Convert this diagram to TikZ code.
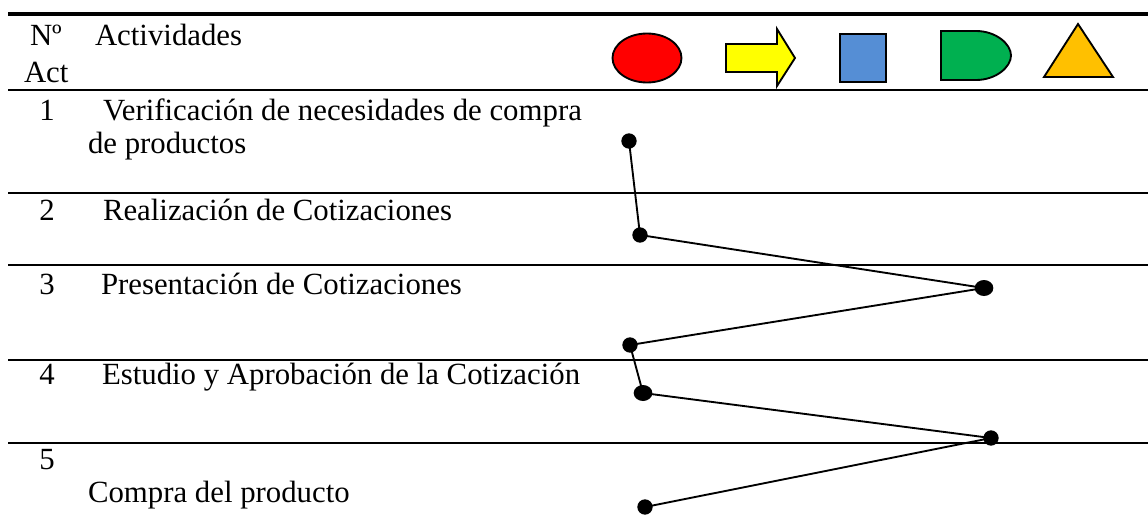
\documentclass[tikz,border=0pt]{standalone}
\usepackage{fontspec}
\usetikzlibrary{shapes.geometric}
\setmainfont{Liberation Serif}
\definecolor{cblue}{HTML}{558ED5}
\definecolor{cgreen}{HTML}{00B050}
\definecolor{corange}{HTML}{FFC000}
\definecolor{cred}{HTML}{FF0000}
\definecolor{cyellow}{HTML}{FFFF00}
\tikzset{
 txt/.style={anchor=base west,inner sep=0pt,outer sep=0pt,font=\fontsize{23.1pt}{27pt}\selectfont},
 num/.style={anchor=base,inner sep=0pt,outer sep=0pt,font=\fontsize{23.1pt}{27pt}\selectfont},
 rowline/.style={line width=1.4pt,black},
 symb/.style={draw=black,line width=1.4pt,line join=miter},
 dotn/.style={circle,fill=black,inner sep=0pt,minimum size=11.5pt},
 dotw/.style={ellipse,fill=black,inner sep=0pt,minimum width=14pt,minimum height=12pt},
 lnk/.style={line width=1.4pt,black},
}
\begin{document}
\begin{tikzpicture}[x=0.75pt,y=-0.75pt]
\useasboundingbox (0,0) rectangle (1148,518);
\coordinate (tl) at (8,14); \coordinate (tr) at (1148,14);
\draw[line width=3pt] (tl) -- (tr);
\foreach \y in {90,193,265,360,443}{\draw[rowline] (8,\y) -- (1148,\y);}
\node[txt] (hn) at (30,45) {Nº};
\node[txt] (ha) at (24,82) {Act};
\node[txt] (hb) at (95,45) {Actividades};
\node[num] (n1) at (47,120) {1};
\node[num] (n2) at (47,220) {2};
\node[num] (n3) at (47,294) {3};
\node[num] (n4) at (47,384) {4};
\node[num] (n5) at (47,469) {5};
\node[txt] (t1) at (103,120) {Verificación de necesidades de compra};
\node[txt] (t1b) at (88,153) {de productos};
\node[txt] (t2) at (103,220) {Realización de Cotizaciones};
\node[txt] (t3) at (101,294) {Presentación de Cotizaciones};
\node[txt] (t4) at (102,384) {Estudio y Aprobación de la Cotización};
\node[txt] (t5) at (88,502) {Compra del producto};
% symbols
\draw[symb,fill=cred] (647,58) ellipse [x radius=34.5,y radius=24.5];
\draw[symb,fill=cyellow] (726,44) -- (777,44) -- (777,29) -- (795,58) -- (777,86) -- (777,72) -- (726,72) -- cycle;
\draw[symb,fill=cblue] (840,34) rectangle (886,82);
\draw[symb,fill=cgreen] (941,31) -- (976,31) .. controls (996,31) and (1011,44) .. (1011,55.5) .. controls (1011,67) and (996,80) .. (976,80) -- (941,80) -- cycle;
\draw[symb,fill=corange] (1078,24) -- (1113,77) -- (1044,77) -- cycle;
% dots
\node[dotn] (d1) at (629,141) {};
\node[dotn] (d2) at (640,235) {};
\node[dotw] (d3) at (984,288) {};
\node[dotn] (d4) at (630,345) {};
\node[dotw] (d5) at (643,393) {};
\node[dotn] (d6) at (991,438) {};
\node[dotn] (d7) at (645,507) {};
\draw[lnk] (d1.center) -- (d2.center) -- (d3.center) -- (d4.center) -- (d5.center) -- (d6.center) -- (d7.center);
\end{tikzpicture}
\end{document}
